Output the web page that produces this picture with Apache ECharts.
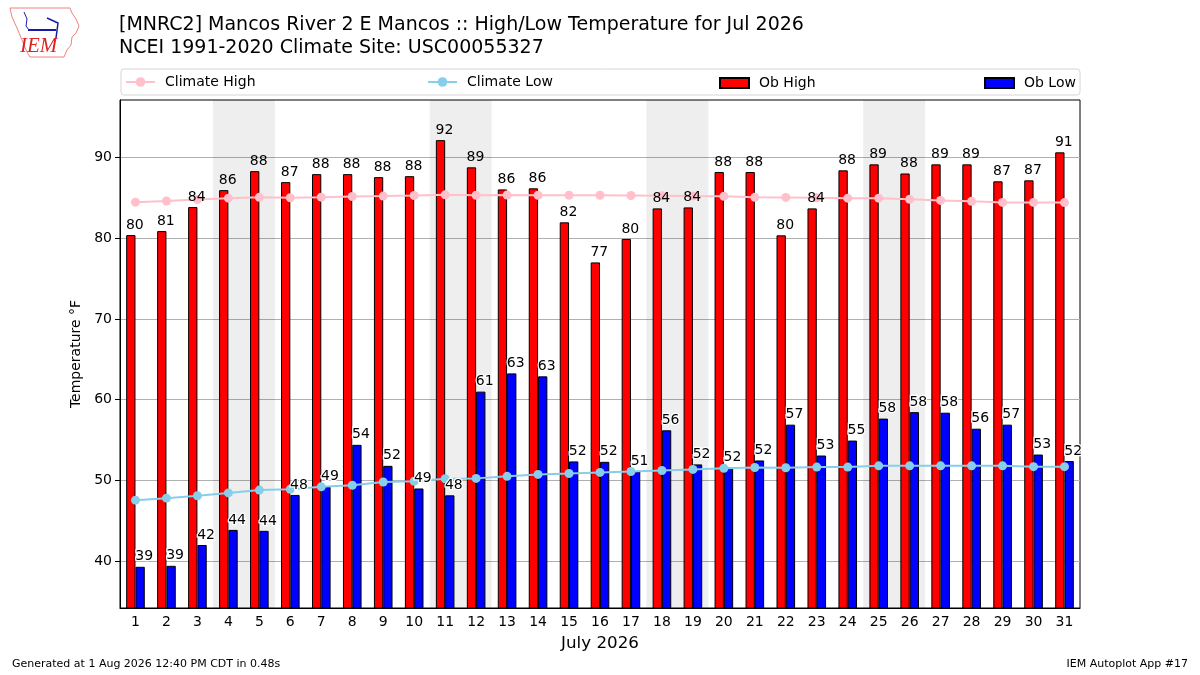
<!DOCTYPE html>
<html>
<head>
<meta charset="utf-8">
<title>MNRC2 High/Low Temperature Jul 2026</title>
<script src="https://cdn.jsdelivr.net/npm/echarts@6/dist/echarts.min.js"></script>
<style>
  html, body { margin: 0; padding: 0; background: #fff; }
  #main { width: 1200px; height: 675px; }
</style>
</head>
<body>
<div id="main"></div>
<script>
// days of July 2026
var days = [];
for (var d = 1; d <= 31; d++) days.push(String(d));

var obHigh = [80.37, 80.87, 83.84, 85.94, 88.29, 86.93, 87.92, 87.92, 87.55, 87.67,
              92.13, 88.76, 86.03, 86.16, 81.95, 76.99, 79.9, 83.68, 83.8, 88.18,
              88.18, 80.34, 83.68, 88.39, 89.13, 88.0, 89.13, 89.13, 87.03, 87.15, 90.62];
var obLow = [39.3, 39.42, 42.0, 43.87, 43.75, 48.2, 49.2, 54.4, 51.8, 49.0,
             48.15, 60.99, 63.25, 62.88, 52.35, 52.3, 51.1, 56.2, 51.98, 51.6,
             52.47, 56.9, 53.08, 54.93, 57.65, 58.45, 58.38, 56.4, 56.9, 53.2, 52.4];
var climHigh = [84.45, 84.6, 84.78, 84.95, 85.05, 85.0, 85.07, 85.15, 85.2, 85.27,
                85.36, 85.3, 85.33, 85.3, 85.3, 85.3, 85.28, 85.25, 85.2, 85.17,
                85.05, 85.04, 84.99, 84.95, 84.95, 84.8, 84.67, 84.55, 84.42, 84.42, 84.4];
var climLow = [47.55, 47.8, 48.1, 48.45, 48.8, 48.9, 49.2, 49.4, 49.8, 49.9,
               50.2, 50.25, 50.5, 50.74, 50.86, 50.99, 51.1, 51.23, 51.36, 51.5,
               51.6, 51.57, 51.65, 51.65, 51.8, 51.8, 51.8, 51.8, 51.8, 51.7, 51.7];
// weekends (Sat-Sun pairs)
var weekends = [[4, 5], [11, 12], [18, 19], [25, 26]];
var yTicks = [40, 50, 60, 70, 80, 90];
var yMin = 34.2, yMax = 97.1;

var FONT = 'DejaVu Sans';

var shade = [];
for (var w of weekends) {
    shade.push([{xAxis: w[0] - 0.5}, {xAxis: w[1] + 0.5}]);
}

function roundLabel(p) {
    return Math.round(p.value);
}

var legendBase = {
    top: 76, padding: 0, itemWidth: 29, itemHeight: 10,
    textStyle: {fontFamily: FONT, fontSize: 14, color: '#000', padding: [0, 0, 0, 5]}
};
function oneLegend(name, left, extra) {
    return Object.assign({}, legendBase, {data: [name], left: left}, extra || {});
}

var option = {
    animation: false,
    backgroundColor: '#fff',
    title: {
        text: '[MNRC2] Mancos River 2 E Mancos :: High/Low Temperature for Jul 2026\nNCEI 1991-2020 Climate Site: USC00055327',
        left: 119, top: 14, padding: 0,
        textStyle: {fontFamily: FONT, fontSize: 19, fontWeight: 'normal', color: '#000', lineHeight: 23}
    },
    legend: [
        oneLegend('Climate High', 125, {itemHeight: 12, top: 75}),
        oneLegend('Climate Low', 427, {itemHeight: 12, top: 75}),
        oneLegend('Ob High', 719, {icon: 'rect'}),
        oneLegend('Ob Low', 984, {icon: 'rect'})
    ],
    grid: {
        left: 120, right: 120, top: 100, bottom: 67,
        show: true, borderColor: '#000', borderWidth: 1, backgroundColor: 'transparent'
    },
    xAxis: [
        {
            type: 'category', data: days,
            name: 'July 2026', nameLocation: 'middle', nameGap: 27,
            nameTextStyle: {fontFamily: FONT, fontSize: 16.7, color: '#000'},
            axisLine: {lineStyle: {color: '#000'}},
            axisTick: {alignWithLabel: true, length: 5, lineStyle: {color: '#000'}},
            axisLabel: {fontFamily: FONT, fontSize: 14, color: '#000', margin: 7}
        },
        {type: 'category', data: days, show: false},
        {type: 'value', min: 0.5, max: 31.5, show: false}
    ],
    yAxis: {
        type: 'value', min: yMin, max: yMax,
        name: 'Temperature °F', nameLocation: 'middle', nameGap: 33,
        nameTextStyle: {fontFamily: FONT, fontSize: 14, color: '#000'},
        axisLine: {show: true, lineStyle: {color: '#000'}},
        axisTick: {show: true, length: 5, lineStyle: {color: '#000'}, customValues: yTicks},
        axisLabel: {fontFamily: FONT, fontSize: 14, color: '#000', margin: 8, customValues: yTicks},
        splitLine: {show: true, lineStyle: {color: '#b0b0b0', width: 1}}
    },
    series: [
        {
            name: 'weekend', type: 'line', xAxisIndex: 2, data: [[1, yMin]],
            showSymbol: false, lineStyle: {width: 0}, silent: true, z: 1,
            markArea: {silent: true, itemStyle: {color: 'rgba(0,0,0,0.067)'}, data: shade}
        },
        {
            name: 'Ob High', type: 'bar', data: obHigh, barWidth: 9.3, barGap: '0%', z: 2,
            itemStyle: {color: '#ff0000', borderColor: '#000', borderWidth: 1}
        },
        {
            name: 'Ob Low', type: 'bar', data: obLow, barWidth: 9.3, barGap: '0%', z: 2,
            itemStyle: {color: '#0000ff', borderColor: '#000', borderWidth: 1}
        },
        {
            name: 'Climate High', type: 'line', data: climHigh, z: 3,
            symbol: 'circle', symbolSize: 9,
            lineStyle: {color: '#ffc0cb', width: 2}, itemStyle: {color: '#ffc0cb'}
        },
        {
            name: 'Climate Low', type: 'line', data: climLow, z: 3,
            symbol: 'circle', symbolSize: 9,
            lineStyle: {color: '#87ceeb', width: 2}, itemStyle: {color: '#87ceeb'}
        },
        // labels on their own hidden axis so they sit above the lines
        {
            name: 'hiLabel', type: 'bar', xAxisIndex: 1, data: obHigh, barWidth: 9.3, barGap: '0%',
            z: 4, silent: true, itemStyle: {color: 'transparent'},
            label: {show: true, position: 'top', distance: 3, offset: [4, 0], formatter: roundLabel,
                    fontFamily: FONT, fontSize: 14, color: '#000'}
        },
        {
            name: 'loLabel', type: 'bar', xAxisIndex: 1, data: obLow, barWidth: 9.3, barGap: '0%',
            z: 4, silent: true, itemStyle: {color: 'transparent'},
            label: {show: true, position: 'top', distance: 3, offset: [4, 0], formatter: roundLabel,
                    fontFamily: FONT, fontSize: 14, color: '#000',
                    textBorderColor: '#fff', textBorderWidth: 2.5}
        }
    ],
    graphic: [
        {
            type: 'rect', z: -1, silent: true,
            shape: {x: 121, y: 69, width: 959, height: 26, r: 3},
            style: {fill: '#fff', stroke: '#d5d5d5', lineWidth: 1}
        },
        // IEM logo, rough
        {
            type: 'polyline', silent: true,
            shape: {points: [[10, 8], [70, 8], [72, 13], [76, 19], [79, 26], [76, 33], [72, 37],
                             [71, 45], [67, 50], [64, 57], [30, 57], [26, 50], [22, 40],
                             [17, 28], [12, 17], [10, 8]]},
            style: {stroke: '#f08080', fill: 'none', lineWidth: 1}
        },
        {
            type: 'polyline', silent: true,
            shape: {points: [[28, 30], [56, 30]]},
            style: {stroke: '#1a1aaa', lineWidth: 2}
        },
        {
            type: 'polyline', silent: true,
            shape: {points: [[24, 12], [27, 19], [26, 26], [29, 30]]},
            style: {stroke: '#1a1aaa', fill: 'none', lineWidth: 1}
        },
        {
            type: 'polyline', silent: true,
            shape: {points: [[47, 18], [58, 23], [56, 38]]},
            style: {stroke: '#1a1aaa', fill: 'none', lineWidth: 1.5}
        },
        {
            type: 'text', left: 20, top: 36, silent: true,
            style: {text: 'IEM', fontFamily: 'Liberation Serif', fontStyle: 'italic',
                    fontSize: 21, fill: '#dd2222'}
        },
        {
            type: 'text', left: 12, top: 659, silent: true,
            style: {text: 'Generated at 1 Aug 2026 12:40 PM CDT in 0.48s',
                    fontFamily: FONT, fontSize: 11, fill: '#000'}
        },
        {
            type: 'text', right: 12, top: 659, silent: true,
            style: {text: 'IEM Autoplot App #17', fontFamily: FONT, fontSize: 11, fill: '#000'}
        }
    ]
};

var chart = echarts.init(document.getElementById('main'));
chart.setOption(option);
</script>
</body>
</html>
